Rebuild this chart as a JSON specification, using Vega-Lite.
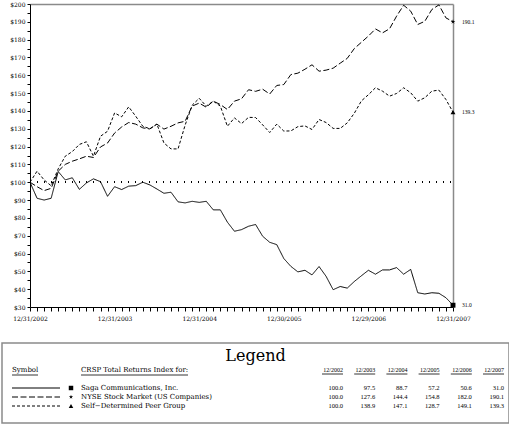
{
  "$schema": "https://vega.github.io/schema/vega-lite/v6.json",
  "padding": {"left": 1, "right": 1, "top": 1, "bottom": 1},
  "background": "white",
  "spacing": 21,
  "config": {"view": {"stroke": "#8a8a8a", "strokeWidth": 1.5}, "font": "DejaVu Serif"},
  "datasets": {
    "returns": [
      {"series":"Saga","m":0,"value":100},{"series":"Saga","m":1,"value":91.0},{"series":"Saga","m":2,"value":90.0},{"series":"Saga","m":3,"value":91.0},{"series":"Saga","m":4,"value":106.0},{"series":"Saga","m":5,"value":101.3},{"series":"Saga","m":6,"value":102.5},{"series":"Saga","m":7,"value":96.0},{"series":"Saga","m":8,"value":99.6},{"series":"Saga","m":9,"value":101.9},
      {"series":"Saga","m":10,"value":100.3},{"series":"Saga","m":11,"value":92.1},{"series":"Saga","m":12,"value":97.5},{"series":"Saga","m":13,"value":95.9},{"series":"Saga","m":14,"value":97.8},{"series":"Saga","m":15,"value":98.1},{"series":"Saga","m":16,"value":100.0},{"series":"Saga","m":17,"value":98.5},{"series":"Saga","m":18,"value":96.2},{"series":"Saga","m":19,"value":93.8},
      {"series":"Saga","m":20,"value":94.4},{"series":"Saga","m":21,"value":89.0},{"series":"Saga","m":22,"value":88.4},{"series":"Saga","m":23,"value":89.3},{"series":"Saga","m":24,"value":88.7},{"series":"Saga","m":25,"value":89.3},{"series":"Saga","m":26,"value":84.5},{"series":"Saga","m":27,"value":84.5},{"series":"Saga","m":28,"value":77.6},{"series":"Saga","m":29,"value":72.5},
      {"series":"Saga","m":30,"value":73.4},{"series":"Saga","m":31,"value":75.3},{"series":"Saga","m":32,"value":76.3},{"series":"Saga","m":33,"value":69.7},{"series":"Saga","m":34,"value":66.3},{"series":"Saga","m":35,"value":65.0},{"series":"Saga","m":36,"value":57.2},{"series":"Saga","m":37,"value":52.8},{"series":"Saga","m":38,"value":49.7},{"series":"Saga","m":39,"value":50.6},
      {"series":"Saga","m":40,"value":48.0},{"series":"Saga","m":41,"value":52.7},{"series":"Saga","m":42,"value":47.2},{"series":"Saga","m":43,"value":39.7},{"series":"Saga","m":44,"value":41.5},{"series":"Saga","m":45,"value":40.6},{"series":"Saga","m":46,"value":44.3},{"series":"Saga","m":47,"value":47.5},{"series":"Saga","m":48,"value":50.6},{"series":"Saga","m":49,"value":48.4},
      {"series":"Saga","m":50,"value":50.8},{"series":"Saga","m":51,"value":50.8},{"series":"Saga","m":52,"value":52.1},{"series":"Saga","m":53,"value":48.4},{"series":"Saga","m":54,"value":51.1},{"series":"Saga","m":55,"value":38.0},{"series":"Saga","m":56,"value":37.3},{"series":"Saga","m":57,"value":38.0},{"series":"Saga","m":58,"value":37.7},{"series":"Saga","m":59,"value":35.2},
      {"series":"Saga","m":60,"value":31.0},
      {"series":"NYSE","m":0,"value":100},{"series":"NYSE","m":1,"value":97.5},{"series":"NYSE","m":2,"value":95.3},{"series":"NYSE","m":3,"value":96.6},{"series":"NYSE","m":4,"value":106.2},{"series":"NYSE","m":5,"value":110.0},{"series":"NYSE","m":6,"value":111.8},{"series":"NYSE","m":7,"value":113.1},{"series":"NYSE","m":8,"value":114.6},{"series":"NYSE","m":9,"value":113.9},
      {"series":"NYSE","m":10,"value":119.8},{"series":"NYSE","m":11,"value":122.0},{"series":"NYSE","m":12,"value":127.6},{"series":"NYSE","m":13,"value":131.0},{"series":"NYSE","m":14,"value":133.5},{"series":"NYSE","m":15,"value":132.6},{"series":"NYSE","m":16,"value":130.5},{"series":"NYSE","m":17,"value":129.9},{"series":"NYSE","m":18,"value":132.6},{"series":"NYSE","m":19,"value":129.8},
      {"series":"NYSE","m":20,"value":131.4},{"series":"NYSE","m":21,"value":133.3},{"series":"NYSE","m":22,"value":134.2},{"series":"NYSE","m":23,"value":142.7},{"series":"NYSE","m":24,"value":144.4},{"series":"NYSE","m":25,"value":142.1},{"series":"NYSE","m":26,"value":145.5},{"series":"NYSE","m":27,"value":143.6},{"series":"NYSE","m":28,"value":140.8},{"series":"NYSE","m":29,"value":145.5},
      {"series":"NYSE","m":30,"value":146.8},{"series":"NYSE","m":31,"value":151.9},{"series":"NYSE","m":32,"value":151.0},{"series":"NYSE","m":33,"value":152.2},{"series":"NYSE","m":34,"value":149.5},{"series":"NYSE","m":35,"value":154.3},{"series":"NYSE","m":36,"value":154.8},{"series":"NYSE","m":37,"value":160.4},{"series":"NYSE","m":38,"value":161.2},{"series":"NYSE","m":39,"value":163.4},
      {"series":"NYSE","m":40,"value":165.9},{"series":"NYSE","m":41,"value":162.3},{"series":"NYSE","m":42,"value":162.9},{"series":"NYSE","m":43,"value":164.0},{"series":"NYSE","m":44,"value":166.8},{"series":"NYSE","m":45,"value":169.5},{"series":"NYSE","m":46,"value":175.0},{"series":"NYSE","m":47,"value":178.5},{"series":"NYSE","m":48,"value":182.0},{"series":"NYSE","m":49,"value":186.0},
      {"series":"NYSE","m":50,"value":183.8},{"series":"NYSE","m":51,"value":186.1},{"series":"NYSE","m":52,"value":193.2},{"series":"NYSE","m":53,"value":199.3},{"series":"NYSE","m":54,"value":196.0},{"series":"NYSE","m":55,"value":188.5},{"series":"NYSE","m":56,"value":190.3},{"series":"NYSE","m":57,"value":196.9},{"series":"NYSE","m":58,"value":199.5},{"series":"NYSE","m":59,"value":192.2},
      {"series":"NYSE","m":60,"value":190.1},
      {"series":"Peer","m":0,"value":100},{"series":"Peer","m":1,"value":106.2},{"series":"Peer","m":2,"value":101.3},{"series":"Peer","m":3,"value":98.0},{"series":"Peer","m":4,"value":107.5},{"series":"Peer","m":5,"value":114.6},{"series":"Peer","m":6,"value":117.2},{"series":"Peer","m":7,"value":121.2},{"series":"Peer","m":8,"value":122.7},{"series":"Peer","m":9,"value":114.6},
      {"series":"Peer","m":10,"value":125.8},{"series":"Peer","m":11,"value":128.6},{"series":"Peer","m":12,"value":138.9},{"series":"Peer","m":13,"value":136.7},{"series":"Peer","m":14,"value":142.3},{"series":"Peer","m":15,"value":137.0},{"series":"Peer","m":16,"value":131.4},{"series":"Peer","m":17,"value":130.0},{"series":"Peer","m":18,"value":132.6},{"series":"Peer","m":19,"value":122.0},
      {"series":"Peer","m":20,"value":118.7},{"series":"Peer","m":21,"value":118.7},{"series":"Peer","m":22,"value":132.0},{"series":"Peer","m":23,"value":143.2},{"series":"Peer","m":24,"value":147.1},{"series":"Peer","m":25,"value":142.7},{"series":"Peer","m":26,"value":145.5},{"series":"Peer","m":27,"value":142.7},{"series":"Peer","m":28,"value":131.4},{"series":"Peer","m":29,"value":136.1},
      {"series":"Peer","m":30,"value":132.9},{"series":"Peer","m":31,"value":136.4},{"series":"Peer","m":32,"value":136.3},{"series":"Peer","m":33,"value":132.2},{"series":"Peer","m":34,"value":127.9},{"series":"Peer","m":35,"value":132.6},{"series":"Peer","m":36,"value":128.7},{"series":"Peer","m":37,"value":128.8},{"series":"Peer","m":38,"value":131.2},{"series":"Peer","m":39,"value":131.6},
      {"series":"Peer","m":40,"value":129.6},{"series":"Peer","m":41,"value":135.2},{"series":"Peer","m":42,"value":133.5},{"series":"Peer","m":43,"value":130.2},{"series":"Peer","m":44,"value":130.2},{"series":"Peer","m":45,"value":133.3},{"series":"Peer","m":46,"value":138.7},{"series":"Peer","m":47,"value":145.6},{"series":"Peer","m":48,"value":149.1},{"series":"Peer","m":49,"value":153.0},
      {"series":"Peer","m":50,"value":151.1},{"series":"Peer","m":51,"value":148.3},{"series":"Peer","m":52,"value":149.8},{"series":"Peer","m":53,"value":153.0},{"series":"Peer","m":54,"value":150.2},{"series":"Peer","m":55,"value":145.5},{"series":"Peer","m":56,"value":147.4},{"series":"Peer","m":57,"value":151.1},{"series":"Peer","m":58,"value":151.7},{"series":"Peer","m":59,"value":146.4},
      {"series":"Peer","m":60,"value":139.3}
    ],
    "table": [
      {"key":"Saga","name":"Saga Communications, Inc.","year":2002,"period":"12/2002","value":100.0},
      {"key":"Saga","name":"Saga Communications, Inc.","year":2003,"period":"12/2003","value":97.5},
      {"key":"Saga","name":"Saga Communications, Inc.","year":2004,"period":"12/2004","value":88.7},
      {"key":"Saga","name":"Saga Communications, Inc.","year":2005,"period":"12/2005","value":57.2},
      {"key":"Saga","name":"Saga Communications, Inc.","year":2006,"period":"12/2006","value":50.6},
      {"key":"Saga","name":"Saga Communications, Inc.","year":2007,"period":"12/2007","value":31.0},
      {"key":"NYSE","name":"NYSE Stock Market (US Companies)","year":2002,"period":"12/2002","value":100.0},
      {"key":"NYSE","name":"NYSE Stock Market (US Companies)","year":2003,"period":"12/2003","value":127.6},
      {"key":"NYSE","name":"NYSE Stock Market (US Companies)","year":2004,"period":"12/2004","value":144.4},
      {"key":"NYSE","name":"NYSE Stock Market (US Companies)","year":2005,"period":"12/2005","value":154.8},
      {"key":"NYSE","name":"NYSE Stock Market (US Companies)","year":2006,"period":"12/2006","value":182.0},
      {"key":"NYSE","name":"NYSE Stock Market (US Companies)","year":2007,"period":"12/2007","value":190.1},
      {"key":"Peer","name":"Self−Determined Peer Group","year":2002,"period":"12/2002","value":100.0},
      {"key":"Peer","name":"Self−Determined Peer Group","year":2003,"period":"12/2003","value":138.9},
      {"key":"Peer","name":"Self−Determined Peer Group","year":2004,"period":"12/2004","value":147.1},
      {"key":"Peer","name":"Self−Determined Peer Group","year":2005,"period":"12/2005","value":128.7},
      {"key":"Peer","name":"Self−Determined Peer Group","year":2006,"period":"12/2006","value":149.1},
      {"key":"Peer","name":"Self−Determined Peer Group","year":2007,"period":"12/2007","value":139.3}
    ],
    "headers": [
      {"col":"symbol","label":"Symbol"},
      {"col":"name","label":"CRSP Total Returns Index for:"}
    ]
  },
  "vconcat": [
    {
      "width": 451,
      "height": 303,
      "view": {"stroke": null},
      "data": {"name": "returns"},
      "resolve": {"axis": {"x": "independent", "y": "independent"}},
      "layer": [
        {
          "mark": {"type": "rule", "strokeDash": [1, 6], "strokeWidth": 1.1, "color": "black"},
          "encoding": {
            "x": {"datum": 0, "type": "quantitative", "axis": null},
            "x2": {"datum": 60},
            "y": {"datum": 100, "type": "quantitative", "axis": null}
          }
        },
        {
          "mark": {"type": "line", "strokeWidth": 1, "color": "black"},
          "encoding": {
            "x": {"field": "m", "type": "quantitative",
              "scale": {"domain": [0, 60], "range": [28, 451], "nice": false, "zero": false},
              "axis": {"orient": "bottom", "values": [0,1,2,3,4,5,6,7,8,9,10,11,12,13,14,15,16,17,18,19,20,21,22,23,24,25,26,27,28,29,30,31,32,33,34,35,36,37,38,39,40,41,42,43,44,45,46,47,48,49,50,51,52,53,54,55,56,57,58,59,60],
                "tickCount": 1000,
                "labelExpr": "datum.value == 0 ? '12/31/2002' : datum.value == 12 ? '12/31/2003' : datum.value == 24 ? '12/31/2004' : datum.value == 36 ? '12/30/2005' : datum.value == 48 ? '12/29/2006' : datum.value == 60 ? '12/31/2007' : ''",
                "title": null, "grid": false, "domainColor": "black", "domainWidth": 1, "tickColor": "black", "tickWidth": 1, "tickSize": 4,
                "labelFont": "DejaVu Serif", "labelFontSize": 6, "labelColor": "black", "labelPadding": 4,
                "labelOverlap": false, "labelFlush": false, "labelBound": false}},
            "y": {"field": "value", "type": "quantitative",
              "scale": {"domain": [30, 200], "nice": false, "zero": false},
              "axis": {"orient": "left", "offset": -28, "values": [30,35,40,45,50,55,60,65,70,75,80,85,90,95,100,105,110,115,120,125,130,135,140,145,150,155,160,165,170,175,180,185,190,195,200],
                "tickCount": 1000,
                "labelExpr": "datum.value % 10 === 0 ? '$' + datum.value : ''",
                "title": null, "grid": false, "domainColor": "black", "domainWidth": 1, "tickColor": "black", "tickWidth": 1, "tickSize": 3,
                "labelFont": "DejaVu Serif", "labelFontSize": 6, "labelColor": "black", "labelPadding": 2,
                "labelOverlap": false, "labelFlush": false, "labelBound": false}},
            "strokeDash": {"field": "series", "type": "nominal",
              "scale": {"domain": ["Saga", "NYSE", "Peer"], "range": [[1, 0], [6, 2.5], [3, 2]]}, "legend": null}
          }
        },
        {
          "transform": [{"filter": "datum.m == 60"}],
          "mark": {"type": "point", "filled": true, "color": "black", "opacity": 1, "size": 24, "strokeWidth": 0},
          "encoding": {
            "x": {"field": "m", "type": "quantitative",
              "axis": {"orient": "top", "title": null, "ticks": false, "labels": false, "grid": false, "domainColor": "#8a8a8a", "domainWidth": 1.5}},
            "y": {"field": "value", "type": "quantitative",
              "axis": {"orient": "right", "title": null, "ticks": false, "labels": false, "grid": false, "domainColor": "#8a8a8a", "domainWidth": 1.5}},
            "shape": {"field": "series", "type": "nominal",
              "scale": {"domain": ["Saga", "NYSE", "Peer"], "range": ["square", "M0,-1L0.2245,-0.309L0.951,-0.309L0.363,0.118L0.588,0.809L0,0.382L-0.588,0.809L-0.363,0.118L-0.951,-0.309L-0.2245,-0.309Z", "triangle-up"]}, "legend": null}
          }
        },
        {
          "transform": [{"filter": "datum.m == 60"}],
          "mark": {"type": "text", "align": "left", "baseline": "middle", "dx": 9, "font": "Liberation Serif", "fontSize": 5.5, "color": "black"},
          "encoding": {
            "x": {"field": "m", "type": "quantitative", "axis": null},
            "y": {"field": "value", "type": "quantitative", "axis": null},
            "text": {"field": "value", "type": "quantitative", "format": ".1f"}
          }
        }
      ]
    },
    {
      "width": 507,
      "height": 80,
      "title": {"text": "Legend", "font": "DejaVu Serif", "fontSize": 16, "fontWeight": "normal", "color": "black", "offset": -21, "anchor": "middle", "frame": "group"},
      "resolve": {"scale": {"x": "independent"}},
      "layer": [
        {
          "data": {"name": "table"},
          "mark": {"type": "text", "align": "right", "baseline": "middle", "font": "Liberation Serif", "fontSize": 6.5, "color": "black"},
          "encoding": {
            "x": {"field": "year", "type": "quantitative", "scale": {"domain": [2002, 2007], "range": [341, 502]}, "axis": null},
            "y": {"field": "name", "type": "nominal", "scale": {"type": "point", "padding": 0, "domain": ["hdr", "gap", "Saga Communications, Inc.", "NYSE Stock Market (US Companies)", "Self−Determined Peer Group"], "range": [27, 63]}, "axis": null},
            "text": {"field": "value", "type": "quantitative", "format": ".1f"}
          }
        },
        {
          "data": {"name": "table"},
          "transform": [{"filter": "datum.key == 'Saga'"}],
          "mark": {"type": "text", "align": "right", "baseline": "middle", "font": "Liberation Serif", "fontSize": 6, "color": "black"},
          "encoding": {
            "x": {"field": "year", "type": "quantitative", "scale": {"domain": [2002, 2007], "range": [341, 502]}, "axis": null},
            "y": {"datum": "hdr"},
            "text": {"field": "period"}
          }
        },
        {
          "data": {"name": "table"},
          "transform": [{"filter": "datum.key == 'Saga'"}],
          "mark": {"type": "rule", "xOffset": -21, "x2Offset": 0, "yOffset": 4, "color": "black", "strokeWidth": 0.8},
          "encoding": {
            "x": {"field": "year", "type": "quantitative", "scale": {"domain": [2002, 2007], "range": [341, 502]}, "axis": null},
            "x2": {"field": "year"},
            "y": {"datum": "hdr"}
          }
        },
        {
          "data": {"name": "headers"},
          "mark": {"type": "text", "align": "left", "baseline": "middle", "font": "DejaVu Serif", "fontSize": 7, "color": "black"},
          "encoding": {
            "x": {"field": "col", "type": "nominal", "scale": {"type": "point", "padding": 0, "domain": ["symbol", "name"], "range": [10, 79]}, "axis": null},
            "y": {"datum": "hdr"},
            "text": {"field": "label"}
          }
        },
        {
          "data": {"name": "headers"},
          "transform": [{"filter": "datum.col == 'symbol'"}],
          "mark": {"type": "rule", "x2Offset": 26, "yOffset": 5, "color": "black", "strokeWidth": 0.8},
          "encoding": {
            "x": {"field": "col", "type": "nominal", "scale": {"type": "point", "padding": 0, "domain": ["symbol", "name"], "range": [10, 79]}, "axis": null},
            "x2": {"field": "col"},
            "y": {"datum": "hdr"}
          }
        },
        {
          "data": {"name": "headers"},
          "transform": [{"filter": "datum.col == 'name'"}],
          "mark": {"type": "rule", "x2Offset": 107, "yOffset": 5, "color": "black", "strokeWidth": 0.8},
          "encoding": {
            "x": {"field": "col", "type": "nominal", "scale": {"type": "point", "padding": 0, "domain": ["symbol", "name"], "range": [10, 79]}, "axis": null},
            "x2": {"field": "col"},
            "y": {"datum": "hdr"}
          }
        },
        {
          "data": {"name": "table"},
          "transform": [{"filter": "datum.year == 2002"}],
          "mark": {"type": "text", "align": "left", "baseline": "middle", "font": "DejaVu Serif", "fontSize": 7, "color": "black"},
          "encoding": {
            "x": {"datum": "name", "type": "nominal", "scale": {"type": "point", "padding": 0, "domain": ["symbol", "name"], "range": [10, 79]}, "axis": null},
            "y": {"field": "name", "type": "nominal"},
            "text": {"field": "name"}
          }
        },
        {
          "data": {"name": "table"},
          "transform": [{"filter": "datum.year == 2002"}],
          "mark": {"type": "rule", "x2Offset": 48, "color": "black", "strokeWidth": 1},
          "encoding": {
            "x": {"datum": "symbol", "type": "nominal", "scale": {"type": "point", "padding": 0, "domain": ["symbol", "name"], "range": [10, 79]}, "axis": null},
            "x2": {"datum": "symbol"},
            "y": {"field": "name", "type": "nominal"},
            "strokeDash": {"field": "key", "type": "nominal",
              "scale": {"domain": ["Saga", "NYSE", "Peer"], "range": [[1, 0], [6, 2.5], [3, 2]]}, "legend": null}
          }
        },
        {
          "data": {"name": "table"},
          "transform": [{"filter": "datum.year == 2002"}],
          "mark": {"type": "point", "xOffset": 59, "filled": true, "color": "black", "opacity": 1, "size": 20, "strokeWidth": 0},
          "encoding": {
            "x": {"datum": "symbol", "type": "nominal", "scale": {"type": "point", "padding": 0, "domain": ["symbol", "name"], "range": [10, 79]}, "axis": null},
            "y": {"field": "name", "type": "nominal"},
            "shape": {"field": "key", "type": "nominal",
              "scale": {"domain": ["Saga", "NYSE", "Peer"], "range": ["square", "M0,-1L0.2245,-0.309L0.951,-0.309L0.363,0.118L0.588,0.809L0,0.382L-0.588,0.809L-0.363,0.118L-0.951,-0.309L-0.2245,-0.309Z", "triangle-up"]}, "legend": null}
          }
        }
      ]
    }
  ]
}
